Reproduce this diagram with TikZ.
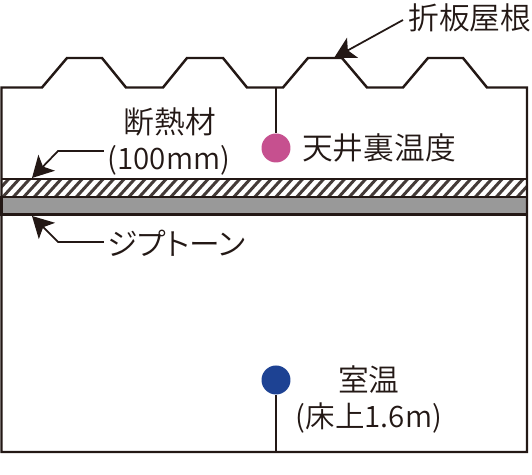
\documentclass[tikz,border=0pt]{standalone}
\usepackage{fontspec}
\setmainfont{Noto Sans CJK JP}[UprightFont=* DemiLight, RawFeature=+palt]
\usetikzlibrary{arrows.meta}
\definecolor{inkblack}{HTML}{231815}
\definecolor{sensorpink}{HTML}{C6508F}
\definecolor{sensorblue}{HTML}{1D4293}
\definecolor{boardgray}{HTML}{999999}
\tikzset{
  wall/.style={draw=inkblack, line width=1.4pt, line join=miter},
  hatchline/.style={draw=inkblack!85, line width=1.7pt},
  lead/.style={draw=inkblack, line width=1pt, -{Stealth[length=12pt, width=13pt, inset=3pt]}},
  sensor/.style={circle, minimum size=0.58cm, inner sep=0pt},
  caption/.style={text=inkblack, font=\fontsize{17.5}{21}\selectfont, align=center, inner sep=0pt},
  captionnum/.style={caption, font=\fontsize{16.8}{21}\selectfont}
}
\begin{document}
\begin{tikzpicture}[x=0.02cm, y=-0.02cm]
  \useasboundingbox (0,0) rectangle (532,475);
  % layers
  \begin{scope}
    \clip (1.5,179) rectangle (527,197);
    \foreach \hx in {-20,-9.5,...,530} \draw[hatchline] (\hx,199) -- (\hx+20,177);
  \end{scope}
  \draw[wall] (1.5,179) -- (527,179);
  \draw[wall, fill=boardgray] (1.5,197) rectangle (527,214.5);
  % roof and walls
  \draw[wall] (1.5,452) -- (1.5,87.5) -- (42,87.5) -- (67,58) -- (102,58) -- (126,87.5) -- (163,87.5) -- (187,58) -- (223,58)
    -- (247,87.5) -- (283,87.5) -- (308,58) -- (342,58) -- (367,87.5) -- (403,87.5) -- (428,58) -- (463,58) -- (487,87.5)
    -- (527,87.5) -- (527,452) -- cycle;
  % sensors
  \coordinate (roofpoint) at (276,87.5);
  \coordinate (floorpoint) at (276,452);
  \node[sensor, fill=sensorpink] (ceilingsensor) at (276,148) {};
  \node[sensor, fill=sensorblue] (roomsensor) at (276,380) {};
  \draw[wall] (roofpoint) -- (ceilingsensor);
  \draw[wall] (roomsensor) -- (floorpoint);
  % labels
  \node[caption] (roofname) at (470,18) {折板屋根};
  \node[caption] (insulname) at (170,122) {断熱材};
  \node[captionnum] (insulthick) at (169,160) {(100mm)};
  \node[caption] (ceilingname) at (379,148) {天井裏温度};
  \node[caption] (boardname) at (176.5,243) {ジプトーン};
  \node[caption] (roomname) at (369,380) {室温};
  \node[captionnum] (roomheight) at (369,418) {(床上1.6m)};
  % leaders
  \coordinate (rooftip) at (334,58);
  \coordinate (insulbend) at (58,151);
  \coordinate (insulstart) at (104,151);
  \coordinate (insultip) at (32,178);
  \coordinate (boardbend) at (58,242);
  \coordinate (boardstart) at (104,242);
  \coordinate (boardtip) at (32,216);
  \coordinate (roofstart) at (403,20);
  \draw[lead] (roofstart) -- (rooftip);
  \draw[lead] (insulstart) -- (insulbend) -- (insultip);
  \draw[lead] (boardstart) -- (boardbend) -- (boardtip);
\end{tikzpicture}
\end{document}
